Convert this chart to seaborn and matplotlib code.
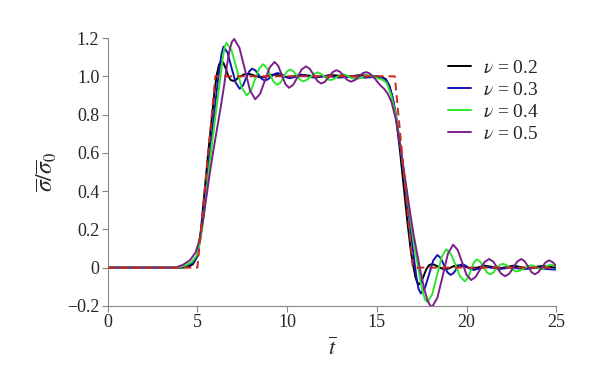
import numpy as np
import pandas as pd
import matplotlib
matplotlib.use("Agg")
import matplotlib.pyplot as plt
import seaborn as sns

# pulse response curves
t_02 = [0, 4.2, 4.5, 4.75, 5.0, 5.2, 5.4, 5.6, 5.8, 5.95, 6.08, 6.2, 6.32, 6.45, 6.58, 6.72,
        6.86, 7.0, 7.15, 7.3, 7.6, 7.9, 8.2, 8.5, 8.8, 9.1, 9.4, 9.7, 10.0, 10.4, 10.8, 11.2,
        11.6, 12.0, 12.4, 12.8, 13.2, 13.6, 14.0, 14.4, 14.8, 15.1, 15.3, 15.5, 15.7, 15.9,
        16.1, 16.3, 16.5, 16.7, 16.9, 17.05, 17.15, 17.25, 17.35, 17.47, 17.6, 17.75, 17.9,
        18.05, 18.2, 18.45, 18.7, 19.0, 19.3, 19.6, 19.9, 20.2, 20.6, 21.0, 21.4, 21.8, 22.2,
        22.6, 23.0, 23.4, 23.8, 24.2, 24.6, 25.0]
s_02 = [0, 0, 0.004, 0.018, 0.06, 0.2, 0.4, 0.6, 0.78, 0.92, 1.01, 1.06, 1.08, 1.07, 1.04, 1.0,
        0.98, 0.976, 0.982, 0.995, 1.01, 1.012, 1.003, 0.995, 0.998, 1.008, 1.008, 1.0, 0.996, 1.0,
        1.008, 1.004, 0.998, 1.0, 1.007, 1.004, 0.998, 1.0, 1.006, 1.004, 1.0, 1.0, 0.995, 0.985,
        0.95, 0.88, 0.76, 0.6, 0.42, 0.24, 0.08, 0.0, -0.05, -0.078, -0.087, -0.075, -0.045,
        -0.01, 0.012, 0.018, 0.015, 0.003, -0.008, -0.005, 0.008, 0.012, 0.005, -0.004, 0.0, 0.01,
        0.004, -0.004, 0.002, 0.01, 0.003, -0.004, 0.003, 0.008, 0.004, 0.0]

t_03 = [0, 4.0, 4.4, 4.8, 5.0, 5.2, 5.4, 5.6, 5.8, 6.0, 6.12, 6.24, 6.35, 6.45, 6.68, 6.9,
        7.13, 7.35, 7.53, 7.7, 7.88, 8.05, 8.23, 8.4, 8.58, 8.75, 8.93, 9.1, 9.28, 9.45, 9.63,
        9.8, 9.98, 10.15, 10.5, 10.85, 11.2, 11.5, 11.85, 12.2, 12.55, 12.9, 13.25, 13.6, 13.95,
        14.3, 14.65, 15.0, 15.25, 15.45, 15.65, 15.85, 16.05, 16.3, 16.55, 16.8, 17.0, 17.12,
        17.22, 17.32, 17.45, 17.68, 17.91, 18.14, 18.37, 18.55, 18.74, 18.92, 19.1, 19.26,
        19.41, 19.57, 19.72, 19.89, 20.06, 20.23, 20.4, 20.75, 21.1, 21.45, 21.8, 22.15, 22.5,
        22.85, 23.2, 23.55, 23.9, 24.2, 24.5, 25.0]
s_03 = [0, 0, 0.008, 0.03, 0.065, 0.18, 0.34, 0.52, 0.69, 0.86, 0.96, 1.05, 1.12, 1.155, 1.123,
        1.045, 0.967, 0.935, 0.95, 0.988, 1.025, 1.04, 1.031, 1.009, 0.987, 0.978, 0.984, 0.998,
        1.011, 1.017, 1.013, 1.004, 0.994, 0.99, 0.998, 1.006, 1.0, 0.993, 0.997, 1.002, 0.998,
        0.993, 0.996, 1.0, 0.997, 0.993, 0.995, 0.996, 0.994, 0.985, 0.96, 0.9, 0.81, 0.64, 0.45,
        0.26, 0.1, 0.01, -0.06, -0.11, -0.135, -0.106, -0.035, 0.037, 0.066, 0.051, 0.014, -0.023,
        -0.038, -0.03, -0.011, 0.009, 0.017, 0.013, 0.003, -0.008, -0.012, -0.004, 0.004, -0.002,
        -0.008, -0.004, 0.002, -0.004, -0.008, -0.004, 0.0, -0.005, -0.008, -0.01]

t_04 = [0, 3.9, 4.3, 4.7, 5.0, 5.2, 5.4, 5.6, 5.8, 6.0, 6.15, 6.3, 6.42, 6.52, 6.62, 6.9, 7.19,
        7.47, 7.75, 7.98, 8.2, 8.43, 8.65, 8.85, 9.05, 9.25, 9.45, 9.63, 9.8, 9.98, 10.15, 10.34,
        10.53, 10.71, 10.9, 11.1, 11.3, 11.5, 11.7, 11.88, 12.05, 12.23, 12.4, 12.58, 12.75,
        12.93, 13.1, 13.28, 13.45, 13.63, 13.8, 13.98, 14.15, 14.33, 14.5, 14.8, 15.1, 15.35,
        15.55, 15.8, 16.05, 16.3, 16.55, 16.8, 17.05, 17.3, 17.45, 17.58, 17.7, 17.82, 18.08,
        18.35, 18.61, 18.87, 19.13, 19.39, 19.64, 19.9, 20.07, 20.24, 20.4, 20.57, 20.75, 20.94,
        21.12, 21.3, 21.48, 21.65, 21.83, 22.0, 22.2, 22.4, 22.6, 22.8, 23.0, 23.2, 23.4, 23.6,
        23.74, 23.88, 24.01, 24.15, 24.29, 24.43, 24.56, 24.7, 25.0]
s_04 = [0, 0, 0.01, 0.03, 0.07, 0.16, 0.3, 0.48, 0.64, 0.79, 0.9, 1.01, 1.1, 1.155, 1.175, 1.135,
        1.038, 0.94, 0.9, 0.924, 0.982, 1.039, 1.063, 1.047, 1.009, 0.971, 0.955, 0.967, 0.996,
        1.024, 1.036, 1.027, 1.005, 0.983, 0.974, 0.981, 0.997, 1.013, 1.02, 1.014, 1.0, 0.986,
        0.98, 0.984, 0.995, 1.006, 1.01, 1.006, 0.998, 0.989, 0.985, 0.988, 0.995, 1.002, 1.005,
        0.998, 0.988, 0.98, 0.965, 0.9, 0.8, 0.65, 0.47, 0.3, 0.13, 0.0, -0.08, -0.135, -0.17,
        -0.18, -0.14, -0.042, 0.056, 0.096, 0.071, 0.012, -0.047, -0.072, -0.055, -0.015, 0.026,
        0.043, 0.032, 0.004, -0.024, -0.035, -0.027, -0.008, 0.012, 0.02, 0.014, 0.0, -0.014,
        -0.02, -0.015, -0.004, 0.007, 0.012, 0.009, 0.002, -0.005, -0.008, -0.005, 0.004, 0.012,
        0.015, 0.008]

t_05 = [0, 3.8, 4.2, 4.6, 4.9, 5.1, 5.3, 5.5, 5.7, 5.9, 6.1, 6.3, 6.5, 6.65, 6.8, 6.92, 7.05,
        7.34, 7.64, 7.93, 8.22, 8.49, 8.76, 9.03, 9.3, 9.5, 9.7, 9.9, 10.1, 10.34, 10.58, 10.81,
        11.05, 11.26, 11.48, 11.69, 11.9, 12.11, 12.33, 12.54, 12.75, 12.95, 13.15, 13.35,
        13.55, 13.76, 13.98, 14.19, 14.4, 14.6, 14.8, 15.0, 15.2, 15.4, 15.6, 15.8, 16.05, 16.3,
        16.55, 16.8, 17.05, 17.25, 17.45, 17.65, 17.82, 17.95, 18.08, 18.37, 18.67, 18.96,
        19.25, 19.5, 19.75, 20.0, 20.25, 20.5, 20.75, 21.0, 21.25, 21.48, 21.7, 21.93, 22.15,
        22.38, 22.6, 22.83, 23.05, 23.24, 23.43, 23.61, 23.8, 24.0, 24.2, 24.4, 24.6, 24.8, 25.0]
s_05 = [0, 0, 0.015, 0.04, 0.08, 0.14, 0.24, 0.37, 0.5, 0.62, 0.73, 0.84, 0.96, 1.06, 1.14, 1.18,
        1.195, 1.149, 1.038, 0.926, 0.88, 0.908, 0.978, 1.047, 1.075, 1.055, 1.008, 0.96, 0.94,
        0.956, 0.996, 1.036, 1.052, 1.039, 1.007, 0.975, 0.962, 0.972, 0.997, 1.022, 1.032, 1.023,
        1.002, 0.981, 0.972, 0.979, 0.997, 1.015, 1.022, 1.015, 0.998, 0.975, 0.952, 0.935, 0.91,
        0.87, 0.78, 0.64, 0.48, 0.32, 0.17, 0.07, -0.03, -0.115, -0.17, -0.195, -0.205, -0.158,
        -0.043, 0.073, 0.12, 0.093, 0.028, -0.038, -0.065, -0.049, -0.01, 0.029, 0.045, 0.032,
        0.0, -0.032, -0.045, -0.032, 0.0, 0.032, 0.045, 0.033, 0.005, -0.023, -0.035, -0.024,
        0.002, 0.027, 0.038, 0.028, 0.008]

# applied load (trapezoidal pulse)
t_load = [0, 5, 6, 16, 17, 25]
s_load = [0, 0, 1, 1, 0, 0]

labels = [r"$\nu$ = 0.2", r"$\nu$ = 0.3", r"$\nu$ = 0.4", r"$\nu$ = 0.5"]
colors = ["#000000", "#1414b4", "#2ee62e", "#7a2189"]

frames = []
for lab, tt, ss in zip(labels, [t_02, t_03, t_04, t_05], [s_02, s_03, s_04, s_05]):
    frames.append(pd.DataFrame({"t": tt, "s": ss, "nu": lab}))
df = pd.concat(frames, ignore_index=True)

sns.set_style("ticks")
plt.rcParams["font.family"] = ["Liberation Serif", "DejaVu Serif"]
plt.rcParams["mathtext.fontset"] = "stix"

fig = plt.figure(figsize=(6.12, 3.73), dpi=100)
ax = fig.add_axes([0.176, 0.18, 0.733, 0.718])

sns.lineplot(data=df, x="t", y="s", hue="nu", palette=colors, linewidth=1.4,
             sort=False, estimator=None, ax=ax)
ax.plot(t_load, s_load, color="#c8281e", linestyle=(0, (4, 2.5)), linewidth=1.4, zorder=5)

ax.set_xlim(0, 25)
ax.set_ylim(-0.2, 1.2)
ax.set_xticks([0, 5, 10, 15, 20, 25])
ax.set_yticks([-0.2, 0, 0.2, 0.4, 0.6, 0.8, 1.0, 1.2])
ax.set_yticklabels(["\u22120.2", "0", "0.2", "0.4", "0.6", "0.8", "1.0", "1.2"])
ax.tick_params(labelsize=13, length=4, color="#888888", width=0.8, pad=2)
for side in ["left", "bottom"]:
    ax.spines[side].set_color("#888888")
    ax.spines[side].set_linewidth(0.8)
sns.despine(ax=ax)

ax.set_xlabel(r"$\overline{t}$", fontsize=16, labelpad=5)
ax.set_ylabel(r"$\overline{\sigma}/\overline{\sigma}_0$", fontsize=17, labelpad=6)

leg = ax.legend(loc="upper right", bbox_to_anchor=(1.0, 0.985), frameon=False, fontsize=14,
                handlelength=1.2, handletextpad=0.6, labelspacing=0.22)

fig.savefig("out.png", dpi=100)
